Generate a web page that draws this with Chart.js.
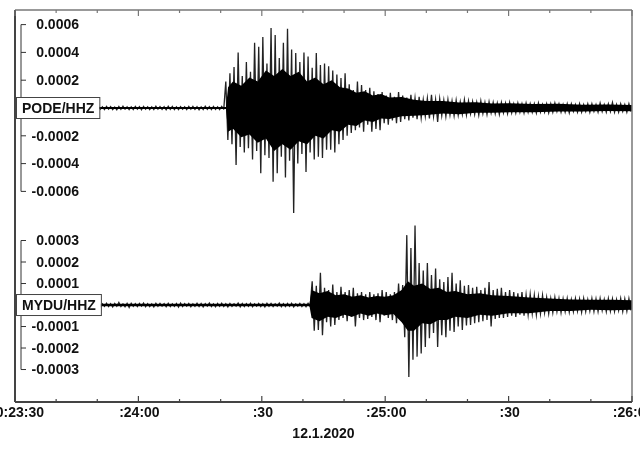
<!DOCTYPE html>
<html>
<head>
<meta charset="utf-8">
<script src="https://cdn.jsdelivr.net/npm/chart.js@4.4.0/dist/chart.umd.min.js"></script>
<style>
  body { margin: 0; background: #fff; }
</style>
</head>
<body>
<canvas id="chart" width="640" height="452"></canvas>
<script>
// one bin per second after 00:23:30, amplitudes in units of 1e-4
const podeUpper = [
  0.12,0.09,0.14,0.10,0.11,0.08,0.13,0.10,0.12,0.09,
  0.15,0.10,0.11,0.13,0.09,0.12,0.10,0.14,0.11,0.09,
  0.12,0.10,0.13,0.11,0.08,0.12,0.14,0.10,0.09,0.13,
  0.11,0.12,0.10,0.09,0.14,0.11,0.10,0.13,0.12,0.09,
  0.11,0.10,0.13,0.12,0.10,0.09,0.14,0.11,0.12,0.10,
  0.13,
  1.9,2.5,2.95,4.0,2.3,3.3,2.6,4.7,4.4,5.1,
  3.2,5.75,5.25,3.6,4.7,5.7,4.2,3.95,3.3,4.0,
  3.7,2.9,3.95,3.1,3.2,3.0,2.7,2.4,2.15,2.5,
  1.7,1.3,1.9,1.65,1.3,1.45,1.2,1.0,1.15,0.9,
  1.1,0.8,1.15,0.9,0.75,0.95,0.7,0.8,0.6,0.7,
  0.95,0.6,0.65,0.55,0.6,0.5,0.55,0.45,0.6,0.5,
  0.45,0.4,0.5,0.4,0.45,0.4,0.35,0.4,0.35,0.4,
  0.3,0.35,0.3,0.35,0.3,0.3,0.35,0.25,0.3,0.3,
  0.35,0.3,0.25,0.3,0.3,0.25,0.3,0.25,0.3,0.3,
  0.25,0.35,0.25,0.3,0.4,0.25,0.3,0.25,0.3
];
const podeLower = [
  -0.10,-0.13,-0.09,-0.12,-0.14,-0.10,-0.11,-0.13,-0.09,-0.12,
  -0.10,-0.14,-0.12,-0.09,-0.13,-0.11,-0.12,-0.10,-0.14,-0.11,
  -0.09,-0.13,-0.10,-0.12,-0.14,-0.11,-0.09,-0.13,-0.12,-0.10,
  -0.14,-0.10,-0.12,-0.13,-0.09,-0.11,-0.14,-0.10,-0.12,-0.13,
  -0.10,-0.12,-0.09,-0.11,-0.14,-0.12,-0.10,-0.13,-0.11,-0.12,
  -0.10,
  -2.3,-2.6,-4.1,-2.8,-3.2,-2.9,-3.7,-3.1,-4.7,-3.4,
  -3.6,-5.3,-4.7,-3.5,-5.0,-3.8,-7.55,-4.0,-3.3,-4.6,
  -3.2,-3.7,-3.5,-3.6,-3.0,-3.0,-3.2,-2.6,-2.3,-2.0,
  -1.8,-1.6,-1.4,-1.7,-1.2,-1.7,-1.5,-1.6,-1.1,-1.2,
  -0.9,-1.1,-1.0,-0.8,-0.9,-0.7,-0.8,-0.7,-0.6,-0.75,
  -0.6,-1.0,-0.55,-0.6,-0.5,-0.55,-0.5,-0.45,-0.5,-0.4,
  -0.45,-0.5,-0.4,-0.45,-0.35,-0.4,-0.45,-0.35,-0.4,-0.35,
  -0.35,-0.3,-0.35,-0.3,-0.3,-0.35,-0.3,-0.3,-0.35,-0.3,
  -0.25,-0.3,-0.3,-0.35,-0.25,-0.3,-0.3,-0.25,-0.3,-0.25,
  -0.3,-0.25,-0.3,-0.25,-0.3,-0.3,-0.25,-0.3,-0.25
];
// dense black core of the PODE trace (seconds, top, bottom)
const podeCoreTime = [0, 51.3, 51.8, 53, 55, 57, 59, 61, 63, 65, 67, 69, 71, 73, 75, 77, 79, 81, 83, 85, 87, 89, 91, 94, 97, 100, 104, 108, 112, 116, 120, 126, 132, 138, 144, 150];
const podeCoreTop = [0.07, 0.07, 1.5, 1.9, 1.6, 2.2, 1.9, 2.7, 2.3, 2.8, 2.3, 2.6, 1.9, 2.2, 1.7, 2.0, 1.5, 1.4, 1.1, 1.2, 0.9, 1.0, 0.75, 0.8, 0.6, 0.5, 0.5, 0.4, 0.42, 0.33, 0.35, 0.28, 0.3, 0.24, 0.26, 0.22];
const podeCoreBottom = [-0.07, -0.07, -1.7, -1.5, -2.1, -1.9, -2.5, -2.2, -3.1, -2.6, -3.0, -2.4, -2.6, -2.0, -2.2, -1.6, -1.7, -1.2, -1.3, -0.9, -1.0, -0.75, -0.8, -0.6, -0.55, -0.5, -0.4, -0.45, -0.35, -0.35, -0.3, -0.3, -0.25, -0.26, -0.22, -0.24];

const myduUpper = [
  0.08,0.06,0.09,0.07,0.10,0.06,0.08,0.13,0.07,0.08,
  0.06,0.09,0.08,0.10,0.07,0.06,0.12,0.08,0.07,0.10,
  0.08,0.06,0.09,0.07,0.08,0.13,0.06,0.08,0.09,0.07,
  0.08,0.10,0.07,0.06,0.09,0.08,0.07,0.09,0.06,0.08,
  0.10,0.07,0.08,0.06,0.09,0.08,0.07,0.10,0.06,0.08,
  0.09,0.07,0.08,0.06,0.10,0.08,0.07,0.09,0.06,0.08,
  0.07,0.09,0.08,0.06,0.10,0.07,0.08,0.09,0.06,0.08,
  0.07,0.09,
  1.1,0.9,1.5,0.8,0.7,0.95,0.6,0.85,0.6,0.7,
  0.8,0.55,0.6,0.5,0.6,0.5,0.55,0.7,0.6,0.5,
  0.6,1.0,0.93,3.25,2.65,3.7,1.95,1.6,1.95,1.4,
  1.7,1.2,1.07,1.3,1.5,1.0,1.15,0.9,0.93,0.8,
  0.85,0.7,0.8,1.07,0.7,0.75,0.8,0.6,0.7,0.6,
  0.55,0.6,0.47,0.5,0.45,0.4,0.45,0.35,0.3,0.35,
  0.3,0.28,0.3,0.25,0.3,0.28,0.3,0.25,0.3,0.28,
  0.3,0.25,0.3,0.28,0.25,0.3,0.28,0.3
];
const myduLower = [
  -0.07,-0.09,-0.06,-0.08,-0.07,-0.10,-0.08,-0.06,-0.09,-0.07,
  -0.08,-0.12,-0.07,-0.06,-0.09,-0.08,-0.10,-0.07,-0.06,-0.08,
  -0.09,-0.07,-0.08,-0.10,-0.06,-0.08,-0.09,-0.12,-0.07,-0.08,
  -0.06,-0.09,-0.08,-0.10,-0.07,-0.06,-0.09,-0.08,-0.07,-0.10,
  -0.08,-0.06,-0.09,-0.07,-0.08,-0.10,-0.06,-0.08,-0.09,-0.07,
  -0.08,-0.10,-0.07,-0.06,-0.09,-0.08,-0.07,-0.09,-0.06,-0.08,
  -0.10,-0.07,-0.08,-0.06,-0.09,-0.08,-0.07,-0.10,-0.06,-0.08,
  -0.09,-0.07,
  -1.2,-1.16,-1.4,-0.8,-1.0,-0.93,-0.7,-0.6,-0.75,-0.55,
  -1.0,-0.6,-0.7,-0.65,-0.55,-0.7,-0.8,-0.5,-0.6,-0.7,
  -0.85,-0.7,-1.5,-3.35,-2.55,-2.4,-2.25,-1.95,-1.55,-1.3,
  -1.95,-1.4,-1.5,-1.2,-1.25,-1.0,-1.16,-0.95,-0.93,-0.85,
  -0.8,-0.75,-0.7,-1.0,-0.65,-0.6,-0.6,-0.55,-0.5,-0.55,
  -0.45,-0.5,-0.45,-0.4,-0.45,-0.4,-0.35,-0.4,-0.35,-0.3,
  -0.35,-0.3,-0.33,-0.3,-0.28,-0.33,-0.3,-0.28,-0.3,-0.3,
  -0.25,-0.3,-0.28,-0.3,-0.25,-0.3,-0.28,-0.25
];
// dense black core of the MYDU trace
const myduCoreTime = [0, 71.6, 72.1, 74, 76, 78, 80, 82, 84, 86, 88, 90, 92, 94, 95.5, 97, 99, 101, 103, 105, 107, 110, 113, 116, 120, 125, 130, 135, 140, 145, 150];
const myduCoreTop = [0.06, 0.06, 0.7, 0.55, 0.65, 0.45, 0.5, 0.38, 0.45, 0.35, 0.42, 0.38, 0.45, 0.7, 1.1, 0.9, 1.0, 0.75, 0.8, 0.6, 0.65, 0.5, 0.55, 0.45, 0.42, 0.35, 0.3, 0.26, 0.24, 0.25, 0.22];
const myduCoreBottom = [-0.06, -0.06, -0.6, -0.75, -0.55, -0.6, -0.45, -0.55, -0.4, -0.5, -0.4, -0.48, -0.42, -0.8, -1.2, -1.2, -0.85, -0.9, -0.7, -0.7, -0.55, -0.6, -0.45, -0.5, -0.38, -0.38, -0.28, -0.28, -0.22, -0.24, -0.22];

const xTickSeconds = [0, 30, 60, 90, 120, 150];
const xTickLabels = ['00:23:30', ':24:00', ':30', ':25:00', ':30', ':26:00'];
const dateLabel = '12.1.2020';
const stations = ['PODE/HHZ', 'MYDU/HHZ'];
const podeTicks = [6, 4, 2, -2, -4, -6];
const podeTickLabels = ['0.0006', '0.0004', '0.0002', '-0.0002', '-0.0004', '-0.0006'];
const myduTicks = [3, 2, 1, -1, -2, -3];
const myduTickLabels = ['0.0003', '0.0002', '0.0001', '-0.0001', '-0.0002', '-0.0003'];

// upper and lower value of each second, drawn as one zigzag trace
function zigzag(upper, lower) {
  let pts = [];
  upper.forEach((u, i) => {
    pts.push({x: i + 0.25, y: u});
    pts.push({x: i + 0.75, y: lower[i]});
  });
  return pts;
}

function pairs(times, vals) {
  return times.map((t, i) => ({x: t, y: vals[i]}));
}

function segWidth(c) {
  const a = Math.abs(c.p0.parsed.y) + Math.abs(c.p1.parsed.y);
  return a < 0.4 ? 1.1 : 1.3;
}

function traceSets(name, axis, upper, lower, coreT, coreTop, coreBot) {
  return [{
    label: name + ' core',
    data: pairs(coreT, coreTop),
    yAxisID: axis,
    borderWidth: 0,
    pointRadius: 0,
    fill: false
  }, {
    label: name + ' core',
    data: pairs(coreT, coreBot),
    yAxisID: axis,
    borderWidth: 0,
    pointRadius: 0,
    backgroundColor: '#000',
    fill: '-1'
  }, {
    label: name,
    data: zigzag(upper, lower),
    yAxisID: axis,
    borderColor: '#222',
    borderWidth: 1.3,
    segment: { borderWidth: segWidth },
    pointRadius: 0,
    tension: 0,
    fill: false
  }];
}

const FONT = 'bold 14px "Liberation Sans", Arial, sans-serif';

const overlay = {
  id: 'overlay',
  afterDatasetsDraw(chart) {
    const ctx = chart.ctx;
    const a = chart.chartArea;
    const xs = chart.scales.x;
    ctx.save();

    function line(x1, y1, x2, y2) {
      ctx.beginPath();
      ctx.moveTo(x1, y1);
      ctx.lineTo(x2, y2);
      ctx.stroke();
    }

    // frame
    ctx.strokeStyle = '#777';
    ctx.lineWidth = 1.5;
    line(a.left, a.top, a.right, a.top);
    line(a.right, a.top, a.right, a.bottom);
    ctx.strokeStyle = '#444';
    ctx.lineWidth = 2;
    line(a.left, a.top, a.left, a.bottom);
    line(a.left, a.bottom, a.right, a.bottom);

    // time ticks every 10 s, longer every 30 s
    ctx.lineWidth = 1.2;
    for (let s = xs.min; s <= xs.max; s += 10) {
      const px = xs.getPixelForValue(s);
      const len = xTickSeconds.includes(s) ? 6 : 3;
      ctx.strokeStyle = '#777';
      line(px, a.top, px, a.top + len);
      ctx.strokeStyle = '#444';
      line(px, a.bottom, px, a.bottom - len);
    }

    ctx.fillStyle = '#111';
    ctx.font = FONT;
    ctx.textAlign = 'center';
    ctx.textBaseline = 'middle';
    xTickLabels.forEach((lab, i) => {
      ctx.fillText(lab, xs.getPixelForValue(xTickSeconds[i]) + 1, a.bottom + 11);
    });
    ctx.fillText(dateLabel, (a.left + a.right) / 2, a.bottom + 32);

    // amplitude axes drawn inside the plot
    const axes = [
      {scale: chart.scales.yPode, ticks: podeTicks, labels: podeTickLabels, name: stations[0]},
      {scale: chart.scales.yMydu, ticks: myduTicks, labels: myduTickLabels, name: stations[1]}
    ];
    axes.forEach(ax => {
      const bx = a.left + 6;
      ctx.strokeStyle = '#333';
      ctx.lineWidth = 1;
      line(bx, ax.scale.getPixelForValue(ax.ticks[0]), bx, ax.scale.getPixelForValue(ax.ticks[ax.ticks.length - 1]));
      ctx.textAlign = 'right';
      ax.ticks.forEach((v, i) => {
        const py = ax.scale.getPixelForValue(v);
        line(bx, py, bx + 5, py);
        ctx.fillText(ax.labels[i], a.left + 64, py + 1);
      });

      // station label box on the zero line
      const zy = ax.scale.getPixelForValue(0);
      const w = ctx.measureText(ax.name).width + 11;
      ctx.fillStyle = '#fff';
      ctx.fillRect(a.left + 1, zy - 11, w, 22);
      ctx.strokeStyle = '#444';
      ctx.strokeRect(a.left + 1.5, zy - 10.5, w, 21);
      ctx.fillStyle = '#111';
      ctx.textAlign = 'left';
      ctx.fillText(ax.name, a.left + 7, zy + 1);
    });

    ctx.restore();
  }
};

const config = {
  type: 'line',
  data: {
    datasets: [
      ...traceSets(stations[0], 'yPode', podeUpper, podeLower, podeCoreTime, podeCoreTop, podeCoreBottom),
      ...traceSets(stations[1], 'yMydu', myduUpper, myduLower, myduCoreTime, myduCoreTop, myduCoreBottom)
    ]
  },
  options: {
    responsive: false,
    devicePixelRatio: 1,
    animation: false,
    events: [],
    layout: { padding: { left: 15, right: 8, top: 10, bottom: 50 } },
    plugins: { legend: { display: false }, tooltip: { enabled: false } },
    scales: {
      x: { type: 'linear', min: 0, max: 150, display: false },
      yPode: { type: 'linear', min: -21.15, max: 7.05, display: false },
      yMydu: { type: 'linear', min: -4.51, max: 13.72, display: false }
    }
  },
  plugins: [overlay]
};

var ctx = document.getElementById('chart');
var myChart = new Chart(ctx, config);
</script>
</body>
</html>
